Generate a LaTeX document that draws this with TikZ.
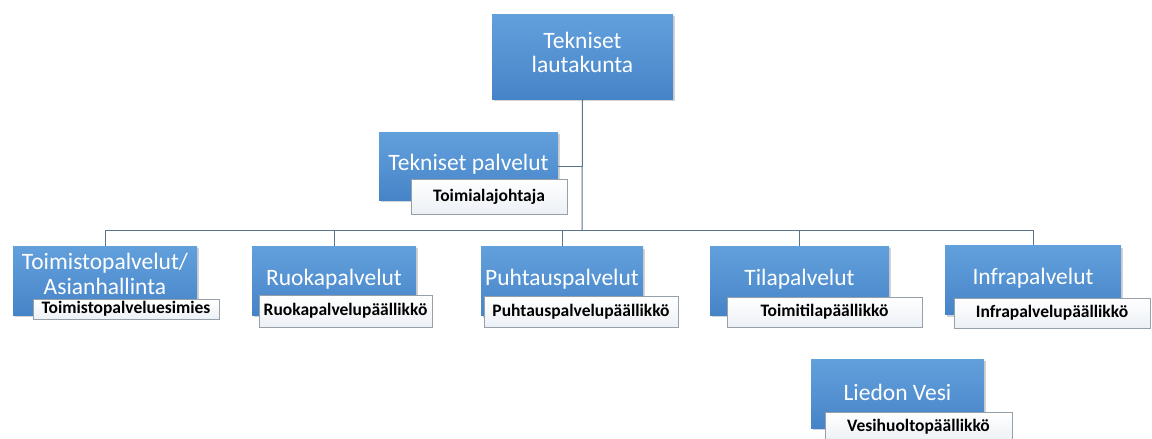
\documentclass[tikz,border=0pt]{standalone}
\usepackage{fontspec}
\setmainfont{Carlito}
\usetikzlibrary{shadows}
\definecolor{boxtop}{RGB}{98,160,220}
\definecolor{boxbot}{RGB}{70,132,200}
\definecolor{conn}{RGB}{88,116,142}
\definecolor{lblborder}{RGB}{150,160,170}
\definecolor{lblbot}{RGB}{236,240,245}
\tikzset{
  orgbox/.style={rectangle, top color=boxtop, bottom color=boxbot, draw=none,
    text=white, font=\fontsize{23.5}{25}\selectfont, align=center, inner sep=0pt,
    drop shadow={shadow xshift=1.5pt, shadow yshift=-2pt, opacity=0.35}},
  lbl/.style={rectangle, draw=lblborder, line width=0.8pt, top color=white, bottom color=lblbot,
    text=black, font=\fontsize{17.5}{19}\selectfont\bfseries, inner sep=0pt},
  link/.style={draw=conn, line width=1pt}
}
\newcommand{\lift}[2]{\raisebox{#1}[\height][\depth]{#2}}
\newcommand{\twolines}[4]{\lift{#1}{\begin{tabular}{@{}c@{}}#2\\[#4]#3\end{tabular}}}
\begin{document}
\begin{tikzpicture}[x=1pt,y=-1pt]
\useasboundingbox (0,0) rectangle (1152,439);
% boxes
\node[orgbox, minimum width=181pt, minimum height=85pt] (top) at (582.5,56.5) {\twolines{1pt}{Tekniset}{lautakunta}{-1pt}};
\node[orgbox, minimum width=179pt, minimum height=68pt] (tek) at (468.5,166) {\lift{1.5pt}{Tekniset palvelut}};
\node[lbl, minimum width=156pt, minimum height=35pt] (tekl) at (489,196.5) {Toimialajohtaja};

\coordinate (bus) at (582,230);

\node[orgbox, minimum width=184pt, minimum height=69pt] (toim) at (105,280.5) {\twolines{4pt}{Toimistopalvelut/}{Asianhallinta}{0pt}};
\node[lbl, minimum width=186pt, minimum height=20pt] (tooml) at (126,309) {Toimistopalveluesimies};

\node[orgbox, minimum width=164pt, minimum height=69pt] (ruoka) at (334,280.5) {\lift{1.5pt}{Ruokapalvelut}};
\node[lbl, minimum width=173pt, minimum height=32pt] (ruokal) at (345.5,311) {Ruokapalvelupäällikkö};

\node[orgbox, minimum width=162pt, minimum height=69pt] (puht) at (562,281) {\lift{1.5pt}{Puhtauspalvelut}};
\node[lbl, minimum width=194pt, minimum height=31pt] (puhtl) at (581,311.5) {Puhtauspalvelupäällikkö};

\node[orgbox, minimum width=179pt, minimum height=69pt] (tila) at (799.5,280.5) {\lift{1.5pt}{Tilapalvelut}};
\node[lbl, minimum width=195pt, minimum height=30pt] (tilal) at (824.5,312) {Toimitilapäällikkö};

\node[orgbox, minimum width=176pt, minimum height=69pt] (infra) at (1033,280) {\lift{1.5pt}{Infrapalvelut}};
\node[lbl, minimum width=196pt, minimum height=30pt] (infral) at (1052,313) {Infrapalvelupäällikkö};

\node[orgbox, minimum width=173pt, minimum height=69pt] (lied) at (897.5,393.5) {\lift{1.5pt}{Liedon Vesi}};
\node[lbl, minimum width=187pt, minimum height=30pt] (liedl) at (918.5,427) {Vesihuoltopäällikkö};

% connectors
\draw[link] (top.south) -- (bus);
\draw[link] (tek.east) -- (tek.east -| top.south);
\draw[link] (toim.north) -- (toim.north |- bus) -- (infra.north |- bus) -- (infra.north);
\draw[link] (ruoka.north) -- (ruoka.north |- bus);
\draw[link] (puht.north) -- (puht.north |- bus);
\draw[link] (tila.north) -- (tila.north |- bus);
\end{tikzpicture}
\end{document}
